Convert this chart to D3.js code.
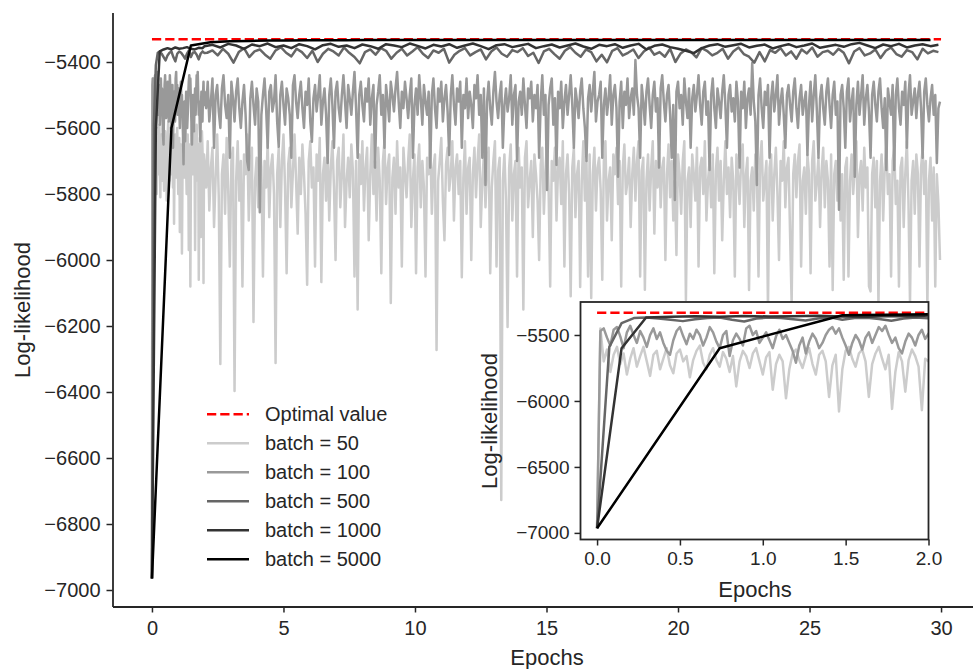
<!DOCTYPE html>
<html>
<head>
<meta charset="utf-8">
<script src="https://cdn.jsdelivr.net/npm/d3@7/dist/d3.min.js"></script>
<style>
  html, body { margin: 0; padding: 0; background: #fff; }
  svg { display: block; font-family: "Liberation Sans", Arial, sans-serif; }
  .axis text { fill: #262626; }
  .axis line, .axis path { stroke: #262626; }
</style>
</head>
<body>
<div id="chart"></div>
<script>
// ----------------------------------
// DATA (log-likelihood per epoch)
// ----------------------------------
const optimalValue = -5331;

// batch = 5000, one point every 0.74 epochs
const b5000Step = 0.74;
const b5000 = [-6965, -5600, -5350, -5340, -5337, -5336, -5335, -5335, -5334, -5334,
  -5334, -5333, -5333, -5333, -5333, -5333, -5333, -5333, -5333, -5333,
  -5333, -5333, -5333, -5333, -5333, -5333, -5333, -5333, -5333, -5333,
  -5333, -5333, -5333, -5333, -5333, -5333, -5333, -5333, -5333, -5333, -5333];

// batch = 1000
const b1000EarlyStep = 0.148;
const b1000Early = [-6965, -5600, -5368, -5362, -5358, -5362, -5356, -5360, -5358, -5355,
  -5360, -5362, -5357, -5358];
const b1000LateStart = 2.0, b1000LateStep = 0.3;
const b1000Late = [-5352, -5348, -5356, -5345, -5350, -5360, -5347, -5352, -5344, -5355,
  -5350, -5358, -5346, -5352, -5362, -5349, -5345, -5354, -5350, -5358,
  -5347, -5352, -5360, -5346, -5350, -5355, -5344, -5351, -5359, -5348,
  -5353, -5346, -5357, -5350, -5344, -5352, -5361, -5349, -5346, -5355,
  -5350, -5345, -5358, -5352, -5347, -5356, -5350, -5344, -5353, -5360,
  -5348, -5352, -5346, -5357, -5350, -5345, -5362, -5351, -5347, -5355,
  -5360, -5366, -5373, -5358, -5350, -5346, -5354, -5349, -5345, -5356,
  -5351, -5347, -5359, -5352, -5346, -5355, -5350, -5344, -5357, -5352,
  -5348, -5354, -5346, -5342, -5350, -5358, -5347, -5352, -5345, -5356,
  -5350, -5346, -5352, -5348];

// batch = 500
const b500EarlyStep = 0.074;
const b500Early = [-6965, -5590, -5410, -5372, -5368, -5375, -5385, -5395, -5380, -5372,
  -5368, -5385, -5398, -5375, -5368, -5372, -5380, -5390, -5375, -5365,
  -5385, -5372, -5370, -5378, -5392, -5375, -5368, -5373];
const b500LateStart = 2.1, b500LateStep = 0.2;
const b500Late = [-5372, -5365, -5380, -5360, -5375, -5402, -5370, -5358, -5385, -5368,
  -5362, -5378, -5390, -5365, -5355, -5372, -5383, -5360, -5370, -5388,
  -5366, -5400, -5375, -5360, -5368, -5380, -5356, -5372, -5385, -5404,
  -5370, -5362, -5378, -5358, -5366, -5390, -5372, -5360, -5380, -5368,
  -5355, -5375, -5388, -5365, -5372, -5360, -5402, -5378, -5366, -5358,
  -5380, -5370, -5362, -5392, -5368, -5356, -5375, -5384, -5364, -5370,
  -5358, -5382, -5372, -5403, -5368, -5360, -5376, -5390, -5366, -5355,
  -5372, -5384, -5362, -5370, -5398, -5378, -5401, -5366, -5358, -5380,
  -5372, -5362, -5388, -5368, -5356, -5378, -5370, -5384, -5360, -5400,
  -5374, -5362, -5370, -5386, -5358, -5366, -5380, -5372, -5360, -5390,
  -5368, -5356, -5376, -5384, -5402, -5370, -5398, -5364, -5372, -5358,
  -5380, -5368, -5390, -5362, -5374, -5356, -5384, -5370, -5366, -5378,
  -5360, -5372, -5404, -5368, -5358, -5380, -5374, -5362, -5388, -5366,
  -5356, -5376, -5384, -5364, -5370, -5392, -5360, -5374, -5366, -5370];

// batch = 100
const b100EarlyStep = 0.02;
const b100Early = [-6965, -5470, -5450, -5520, -5580, -5460, -5440, -5510, -5600, -5480,
  -5430, -5500, -5560, -5470, -5520, -5590, -5500, -5450, -5530, -5480,
  -5560, -5620, -5650, -5540, -5470, -5440, -5510, -5570, -5490, -5530,
  -5460, -5500, -5580, -5520, -5440, -5480, -5550, -5600, -5500, -5470,
  -5660, -5540, -5490, -5530, -5580, -5450, -5430, -5500, -5470, -5560,
  -5520, -5480, -5540, -5600, -5510, -5460, -5530, -5500, -5560, -5620,
  -5710, -5580, -5520, -5640, -5550, -5490, -5530, -5600, -5560, -5500,
  -5460, -5440, -5490, -5450, -5520, -5580, -5650, -5560, -5500, -5540,
  -5610, -5520, -5480, -5560, -5500, -5440, -5470, -5430, -5500, -5560,
  -5520, -5600, -5640, -5550, -5490, -5520, -5580, -5500, -5460, -5530];
const b100LateStart = 2.0, b100LateStep = 0.06;
const b100Late = [-5490, -5540, -5460, -5580, -5520, -5450, -5660, -5500, -5470, -5550,
  -5600, -5480, -5440, -5530, -5570, -5500, -5690, -5460, -5510, -5580,
  -5490, -5450, -5540, -5600, -5520, -5470, -5560, -5700, -5727, -5510,
  -5460, -5530, -5590, -5480, -5520, -5855, -5560, -5500, -5450, -5540,
  -5660, -5490, -5470, -5550, -5520, -5440, -5580, -5657, -5500, -5460,
  -5530, -5590, -5480, -5510, -5560, -5690, -5470, -5440, -5520, -5570,
  -5500, -5460, -5540, -5600, -5490, -5530, -5450, -5580, -5642, -5510,
  -5470, -5550, -5500, -5440, -5590, -5520, -5480, -5560, -5706, -5500,
  -5450, -5530, -5660, -5490, -5460, -5540, -5580, -5500, -5440, -5520,
  -5600, -5470, -5510, -5560, -5490, -5430, -5540, -5690, -5500, -5460,
  -5530, -5580, -5480, -5520, -5450, -5590, -5510, -5470, -5720, -5530,
  -5490, -5440, -5560, -5500, -5660, -5470, -5520, -5580, -5460, -5500,
  -5550, -5480, -5430, -5520, -5600, -5490, -5540, -5460, -5510, -5570,
  -5500, -5450, -5690, -5530, -5480, -5560, -5440, -5510, -5590, -5470,
  -5520, -5560, -5490, -5720, -5500, -5450, -5540, -5600, -5480, -5520,
  -5460, -5580, -5510, -5470, -5550, -5682, -5500, -5440, -5530, -5590,
  -5480, -5520, -5460, -5660, -5500, -5540, -5450, -5570, -5490, -5530,
  -5600, -5470, -5510, -5440, -5560, -5500, -5690, -5480, -5773, -5520,
  -5460, -5540, -5590, -5490, -5430, -5520, -5570, -5500, -5460, -5660,
  -5530, -5480, -5550, -5510, -5440, -5590, -5500, -5470, -5700, -5520,
  -5490, -5560, -5450, -5530, -5600, -5480, -5510, -5460, -5580, -5500,
  -5540, -5470, -5690, -5520, -5440, -5560, -5500, -5788, -5530, -5480,
  -5450, -5590, -5510, -5712, -5490, -5540, -5460, -5600, -5520, -5470,
  -5560, -5500, -5440, -5530, -5660, -5480, -5520, -5570, -5490, -5450,
  -5540, -5600, -5700, -5510, -5470, -5550, -5490, -5430, -5580, -5520,
  -5500, -5460, -5690, -5530, -5480, -5560, -5510, -5440, -5590, -5500,
  -5470, -5540, -5748, -5520, -5460, -5600, -5490, -5530, -5450, -5570,
  -5510, -5480, -5560, -5394, -5500, -5540, -5690, -5470, -5520, -5590,
  -5490, -5450, -5530, -5600, -5500, -5460, -5550, -5510, -5720, -5480,
  -5440, -5520, -5580, -5500, -5470, -5560, -5690, -5530, -5818, -5490,
  -5460, -5540, -5500, -5590, -5450, -5520, -5570, -5480, -5660, -5510,
  -5470, -5550, -5500, -5440, -5530, -5590, -5490, -5460, -5560, -5520,
  -5727, -5500, -5450, -5540, -5600, -5480, -5520, -5570, -5490, -5440,
  -5530, -5660, -5500, -5470, -5550, -5510, -5580, -5460, -5520, -5720,
  -5490, -5540, -5460, -5600, -5510, -5480, -5560, -5403, -5520, -5580,
  -5773, -5500, -5450, -5540, -5600, -5490, -5530, -5470, -5690, -5510,
  -5460, -5550, -5500, -5440, -5590, -5520, -5480, -5560, -5660, -5500,
  -5470, -5530, -5580, -5490, -5450, -5540, -5600, -5510, -5470, -5560,
  -5520, -5490, -5682, -5530, -5460, -5580, -5500, -5440, -5550, -5690,
  -5510, -5470, -5540, -5590, -5490, -5450, -5530, -5600, -5500, -5460,
  -5560, -5520, -5848, -5500, -5470, -5540, -5660, -5490, -5450, -5580,
  -5520, -5480, -5748, -5530, -5460, -5560, -5500, -5440, -5590, -5510,
  -5470, -5550, -5690, -5500, -5460, -5530, -5580, -5490, -5450, -5540,
  -5600, -5510, -5727, -5480, -5520, -5560, -5470, -5727, -5500, -5450,
  -5540, -5590, -5490, -5530, -5460, -5660, -5500, -5440, -5560, -5520,
  -5480, -5570, -5500, -5460, -5540, -5690, -5490, -5450, -5530, -5580,
  -5510, -5470, -5560, -5500, -5706, -5540, -5520];

// batch = 50
const b50EarlyStep = 0.02;
const b50Early = [-6965, -5450, -5700, -5610, -5780, -5650, -5590, -5720, -5640, -5800,
  -5680, -5600, -5740, -5660, -5590, -5700, -5810, -5650, -5620, -5760,
  -5680, -5600, -5730, -5790, -5640, -5610, -5700, -5660, -5820, -5690,
  -5620, -5580, -5710, -5760, -5650, -5600, -5690, -5740, -5630, -5680,
  -5780, -5660, -5890, -5700, -5620, -5660, -5750, -5640, -5600, -5700,
  -5800, -5670, -5630, -5915, -5720, -5650, -5700, -5980, -5760, -5640,
  -5610, -5690, -5750, -5660, -5600, -5720, -5800, -5650, -5620, -5700,
  -5970, -5730, -5650, -6080, -5760, -5620, -5590, -5680, -5740, -5640,
  -5610, -5700, -5970, -5720, -5640, -5590, -5680, -5760, -5650, -6060,
  -5780, -5630, -5700, -5930, -5690, -5610, -5660, -5740, -6070, -5680];
const b50LateStart = 2.0, b50LateStep = 0.06;
const b50Late = [-5700, -5780, -5640, -5850, -5720, -5660, -5900, -5750, -5620, -5810,
  -6315, -5740, -5680, -5860, -5630, -5790, -6020, -5700, -5660, -6397,
  -5760, -5640, -5820, -5700, -6080, -5680, -5740, -5620, -5880, -5720,
  -5660, -6188, -5760, -5690, -5840, -5640, -5720, -6050, -5700, -5780,
  -5640, -5870, -5720, -5680, -5800, -6312, -5740, -5660, -5900, -5700,
  -5620, -5780, -6040, -5710, -5660, -5840, -5730, -5620, -5760, -5920,
  -5690, -5800, -5650, -5740, -5860, -6075, -5700, -5640, -5780, -5720,
  -6020, -5680, -5760, -5630, -6067, -5740, -5690, -5820, -5660, -5880,
  -5720, -5640, -5780, -6000, -5700, -5660, -5840, -5740, -5620, -5900,
  -5760, -5690, -5810, -5650, -5730, -6050, -5700, -6150, -5680, -5770,
  -5640, -5850, -5720, -5660, -5940, -5740, -5620, -5800, -5700, -5880,
  -5660, -5760, -6040, -5700, -5640, -5830, -5720, -5680, -6130, -5750,
  -5690, -5860, -5640, -5780, -5720, -6020, -5660, -5740, -5810, -5700,
  -5620, -5900, -5760, -5680, -6040, -5720, -5650, -5840, -5700, -5780,
  -6050, -5690, -5740, -5640, -5860, -5720, -5680, -6273, -5760, -5700,
  -5630, -5820, -5940, -5710, -5660, -5790, -5740, -5640, -5880, -5720,
  -5680, -5800, -5700, -6052, -5750, -5640, -5860, -5720, -5690, -6000,
  -5740, -5660, -5810, -5700, -5620, -5900, -5760, -5680, -5840, -5720,
  -5660, -6040, -5780, -5700, -5640, -6020, -5730, -5690, -6727, -5760,
  -5680, -5820, -6203, -5720, -5650, -5880, -5740, -5700, -6050, -5660,
  -5780, -5720, -6150, -5690, -5640, -5840, -5760, -5700, -5930, -5680,
  -5740, -5820, -6000, -5710, -5660, -5860, -5730, -5640, -5790, -6080,
  -5700, -5760, -5660, -5880, -5720, -5690, -5830, -5640, -6020, -5740,
  -5680, -5800, -6110, -5720, -5660, -5870, -5740, -5700, -6082, -5760,
  -5640, -5820, -5700, -6050, -5680, -6115, -5740, -5660, -5850, -5720,
  -5690, -5790, -6060, -5700, -5640, -5880, -5760, -5720, -5940, -5680,
  -5740, -5660, -5830, -5700, -6080, -5720, -5650, -5800, -5760, -5690,
  -5900, -5740, -5660, -5820, -5700, -5640, -6050, -5730, -5690, -6090,
  -5760, -5680, -5850, -5720, -5640, -5920, -5700, -5780, -5660, -5840,
  -5720, -5690, -6000, -5740, -5650, -5810, -5700, -5880, -5760, -5985,
  -5680, -5740, -5860, -5700, -5640, -6121, -5760, -5720, -5900, -5680,
  -5740, -5820, -5660, -6020, -5720, -5690, -5800, -5640, -5880, -5760,
  -5700, -5840, -5680, -6040, -5730, -5660, -5820, -5700, -5940, -5760,
  -5640, -5800, -5720, -5870, -5690, -5760, -6050, -5680, -5740, -5830,
  -5700, -5650, -5900, -5740, -5690, -6091, -5760, -5720, -5850, -5680,
  -5740, -6050, -5700, -5640, -5820, -5760, -5700, -6150, -5720, -5680,
  -5880, -5740, -5660, -5800, -6000, -5700, -5760, -5640, -5840, -5720,
  -5690, -5920, -6130, -5740, -5680, -5810, -5700, -5650, -6020, -5760,
  -5720, -5860, -5680, -5740, -6040, -5700, -5640, -5820, -5760, -5690,
  -5900, -5730, -5660, -5840, -5700, -5760, -6020, -5680, -6091, -5740,
  -5700, -5820, -5660, -5880, -5740, -6060, -5720, -5690, -6050, -5760,
  -5680, -5800, -5720, -5640, -5930, -5740, -5700, -5850, -5660, -5780,
  -5720, -6080, -6095, -5740, -5690, -5840, -5700, -6140, -5760, -5680,
  -5880, -5720, -5650, -5800, -5740, -6050, -5700, -5660, -5830, -5760,
  -6080, -5720, -5690, -5900, -5740, -5640, -5820, -6130, -5760, -5700,
  -5860, -5680, -5740, -6020, -5720, -5660, -5800, -5700, -6140, -5760,
  -5690, -5880, -5720, -6080, -5740, -5830, -6000];

const mainXTicks = [0, 5, 10, 15, 20, 25, 30];
const mainYTicks = [-7000, -6800, -6600, -6400, -6200, -6000, -5800, -5600, -5400];
const insetXTicks = [0, 0.5, 1.0, 1.5, 2.0];
const insetYTicks = [-7000, -6500, -6000, -5500];

// ----------------------------------
// BUILD SERIES
// ----------------------------------
function toPoints(early, earlyStep, late, lateStart, lateStep){
  let pts = early.map((v, i) => ({x: i * earlyStep, y: v}));
  if (late) {
    late.forEach((v, k) => pts.push({x: lateStart + k * lateStep, y: v}));
  }
  return pts;
}

const series = [
  {label: 'batch = 50',   color: '#cccccc', pts: toPoints(b50Early, b50EarlyStep, b50Late, b50LateStart, b50LateStep)},
  {label: 'batch = 100',  color: '#999999', pts: toPoints(b100Early, b100EarlyStep, b100Late, b100LateStart, b100LateStep)},
  {label: 'batch = 500',  color: '#666666', pts: toPoints(b500Early, b500EarlyStep, b500Late, b500LateStart, b500LateStep)},
  {label: 'batch = 1000', color: '#333333', pts: toPoints(b1000Early, b1000EarlyStep, b1000Late, b1000LateStart, b1000LateStep)},
  {label: 'batch = 5000', color: '#000000', pts: toPoints(b5000, b5000Step)}
];

// ----------------------------------
// SVG
// ----------------------------------
const width = 973, height = 669;
const svg = d3.select('#chart').append('svg')
  .attr('width', width)
  .attr('height', height);

svg.append('rect').attr('width', width).attr('height', height).attr('fill', '#fff');

const intFormat = d3.format('d');

function drawPanel(g, x, y, clipId){
  const [x0, x1] = x.range();
  const [y0, y1] = y.range();
  g.append('clipPath').attr('id', clipId)
    .append('rect')
      .attr('x', x0).attr('y', y1)
      .attr('width', x1 - x0).attr('height', y0 - y1);

  const plot = g.append('g').attr('clip-path', `url(#${clipId})`);
  const line = d3.line().x(d => x(d.x)).y(d => y(d.y));

  // optimal value first, so the converged batch lines sit on it
  plot.append('line')
    .attr('x1', x(0)).attr('x2', x(30))
    .attr('y1', y(optimalValue)).attr('y2', y(optimalValue))
    .style('stroke', '#ff0000')
    .style('stroke-width', 2.5)
    .style('stroke-dasharray', '9.25,4');

  series.forEach(s => {
    plot.append('path')
      .datum(s.pts)
      .attr('d', line)
      .style('fill', 'none')
      .style('stroke', s.color)
      .style('stroke-width', 2.5)
      .style('stroke-linejoin', 'round');
  });
}

// ----------------------------------
// MAIN AXES
// ----------------------------------
const xMain = d3.scaleLinear().domain([-1.5, 31.5]).range([112.5, 980.5]);
const yMain = d3.scaleLinear().domain([-7050, -5250]).range([606.5, 12.5]);

const main = svg.append('g').classed('main', true);
drawPanel(main, xMain, yMain, 'clipMain');

main.append('g')
  .classed('axis', true)
  .attr('transform', `translate(${xMain.range()[0]},0)`)
  .call(d3.axisLeft(yMain).tickValues(mainYTicks).tickFormat(intFormat).tickSize(6).tickSizeOuter(0).tickPadding(6))
  .call(g => g.selectAll('text').style('font-size', '20px'))
  .call(g => g.selectAll('line').style('stroke-width', 1.5))
  .call(g => g.select('.domain').style('stroke-width', 1.8));

main.append('g')
  .classed('axis', true)
  .attr('transform', `translate(0,${yMain.range()[0]})`)
  .call(d3.axisBottom(xMain).tickValues(mainXTicks).tickFormat(intFormat).tickSize(6).tickSizeOuter(0).tickPadding(8))
  .call(g => g.selectAll('text').style('font-size', '20px'))
  .call(g => g.selectAll('line').style('stroke-width', 1.5))
  .call(g => g.select('.domain').style('stroke-width', 1.8));

main.append('text')
  .text('Epochs')
  .attr('x', 547).attr('y', 665)
  .attr('text-anchor', 'middle')
  .style('font-size', '22px').style('fill', '#262626');

main.append('text')
  .text('Log-likelihood')
  .attr('transform', 'translate(30,310) rotate(-90)')
  .attr('text-anchor', 'middle')
  .style('font-size', '22px').style('fill', '#262626');

// ----------------------------------
// LEGEND
// ----------------------------------
const legendItems = [{label: 'Optimal value', color: '#ff0000', dash: '9.25,4'}]
  .concat(series.map(s => ({label: s.label, color: s.color, dash: null})));

const legend = main.append('g').classed('legend', true);
legendItems.forEach((d, i) => {
  const ly = 414.3 + i * 29;
  legend.append('line')
    .attr('x1', 207).attr('x2', 249)
    .attr('y1', ly).attr('y2', ly)
    .style('stroke', d.color)
    .style('stroke-width', 2.5)
    .style('stroke-dasharray', d.dash);
  legend.append('text')
    .text(d.label)
    .attr('x', 265).attr('y', ly)
    .attr('dy', '0.35em')
    .style('font-size', '20px').style('fill', '#262626');
});

// ----------------------------------
// INSET (first two epochs)
// ----------------------------------
const xIn = d3.scaleLinear().domain([-0.1, 2.0]).range([580.5, 928.5]);
const yIn = d3.scaleLinear().domain([-7050, -5250]).range([539.5, 302]);

const inset = svg.append('g').classed('inset', true);
inset.append('rect')
  .attr('x', xIn.range()[0]).attr('y', yIn.range()[1])
  .attr('width', xIn.range()[1] - xIn.range()[0])
  .attr('height', yIn.range()[0] - yIn.range()[1])
  .attr('fill', '#fff');

drawPanel(inset, xIn, yIn, 'clipInset');

inset.append('g')
  .classed('axis', true)
  .attr('transform', `translate(${xIn.range()[0]},0)`)
  .call(d3.axisLeft(yIn).tickValues(insetYTicks).tickFormat(intFormat).tickSize(6).tickSizeOuter(0).tickPadding(5))
  .call(g => g.selectAll('text').style('font-size', '19px'))
  .call(g => g.selectAll('line').style('stroke-width', 1.5))
  .call(g => g.select('.domain').remove());

inset.append('g')
  .classed('axis', true)
  .attr('transform', `translate(0,${yIn.range()[0]})`)
  .call(d3.axisBottom(xIn).tickValues(insetXTicks).tickFormat(d3.format('.1f')).tickSize(6).tickSizeOuter(0).tickPadding(6))
  .call(g => g.selectAll('text').style('font-size', '19px'))
  .call(g => g.selectAll('line').style('stroke-width', 1.5))
  .call(g => g.select('.domain').remove());

inset.append('rect')
  .attr('x', xIn.range()[0]).attr('y', yIn.range()[1])
  .attr('width', xIn.range()[1] - xIn.range()[0])
  .attr('height', yIn.range()[0] - yIn.range()[1])
  .style('fill', 'none')
  .style('stroke', '#262626')
  .style('stroke-width', 1.8);

inset.append('text')
  .text('Epochs')
  .attr('x', 755).attr('y', 597)
  .attr('text-anchor', 'middle')
  .style('font-size', '22px').style('fill', '#262626');

inset.append('text')
  .text('Log-likelihood')
  .attr('transform', 'translate(497,421) rotate(-90)')
  .attr('text-anchor', 'middle')
  .style('font-size', '22px').style('fill', '#262626');
</script>
</body>
</html>
